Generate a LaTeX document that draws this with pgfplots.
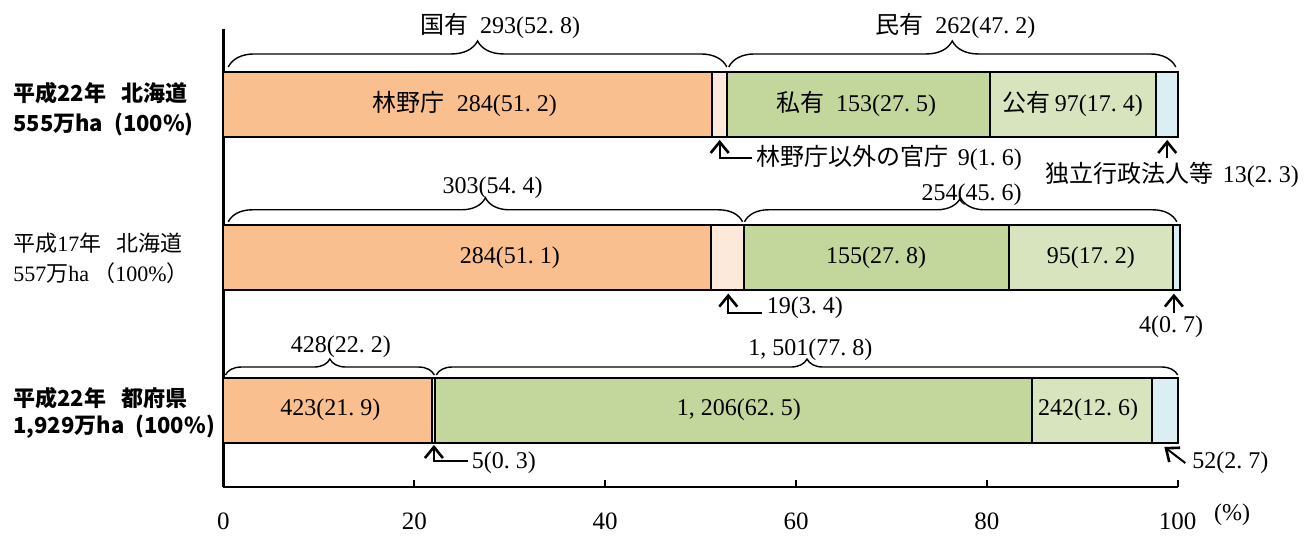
\documentclass[border=0pt]{standalone}
\usepackage{fontspec}
\setmainfont{Liberation Serif}
\newfontfamily\jp{Noto Sans CJK JP}
\usepackage{pgfplots}
\pgfplotsset{compat=1.18}
\usetikzlibrary{decorations.pathreplacing,arrows.meta}
\definecolor{cA}{HTML}{FABF8F}
\definecolor{cB}{HTML}{FDE9D9}
\definecolor{cC}{HTML}{C3D69B}
\definecolor{cD}{HTML}{D7E4BD}
\definecolor{cE}{HTML}{DAEEF3}
\newcommand\dd{.\hspace{0.25em}}
\newcommand\cm{,\hspace{0.25em}}
\begin{document}
\begin{tikzpicture}[
  lab/.style={font=\fontsize{12}{14}\selectfont, inner sep=0pt},
  rl/.style={font=\fontsize{11}{13}\selectfont, inner sep=0pt, anchor=west},
  brc/.style={decorate, line width=0.7pt},
  arr/.style={line width=1pt, -{Straight Barb[length=5.5pt,width=9pt,line width=1.3pt]}},
]
\begin{axis}[
  scale only axis, width=477.1pt, height=229pt,
  xmin=0, xmax=100, ymin=0.496, ymax=3.494,
  xbar stacked, bar width=32.5pt,
  axis x line*=bottom, axis y line*=left,
  axis line style={-, line width=1.2pt},
  xtick={0,20,...,100}, ytick=\empty,
  xtick align=inside, major tick length=3.5pt,
  xtick style={line width=1pt, black},
  xticklabel style={font=\fontsize{12.5}{14}\selectfont, anchor=center, yshift=-17pt},
  /pgf/number format/assume math mode=true,
  clip=false,
]
\addplot[fill=cA, draw=black, line width=1pt] coordinates {(51.2,3) (51.1,2) (21.9,1)};
\addplot[fill=cB, draw=black, line width=1pt] coordinates {(1.6,3) (3.4,2) (0.3,1)};
\addplot[fill=cC, draw=black, line width=1pt] coordinates {(27.5,3) (27.8,2) (62.5,1)};
\addplot[fill=cD, draw=black, line width=1pt] coordinates {(17.4,3) (17.2,2) (12.6,1)};
\addplot[fill=cE, draw=black, line width=1pt] coordinates {(2.3,3) (0.7,2) (2.7,1)};

% positions of in-bar labels (drawn after the axis so they sit on top of the bars)
\coordinate (b1) at (axis cs:25.3,3);
\coordinate (b2) at (axis cs:66.3,3);
\coordinate (b3) at (axis cs:89,3);
\coordinate (b4) at (axis cs:30,2);
\coordinate (b5) at (axis cs:68.4,2);
\coordinate (b6) at (axis cs:90.9,2);
\coordinate (b7) at (axis cs:11.2,1);
\coordinate (b8) at (axis cs:54,1);
\coordinate (b9) at (axis cs:90.6,1);

% braces
\draw[brc, decoration={brace, amplitude=13pt}] (axis cs:0.5,3.2455) -- (axis cs:52.75,3.2455);
\draw[brc, decoration={brace, amplitude=13pt}] (axis cs:52.95,3.2455) -- (axis cs:99.8,3.2455);
\draw[brc, decoration={brace, amplitude=12pt}] (axis cs:0.5,2.232) -- (axis cs:54.4,2.232);
\draw[brc, decoration={brace, amplitude=12pt}] (axis cs:54.6,2.232) -- (axis cs:99.9,2.232);
\draw[brc, decoration={brace, amplitude=8pt}] (axis cs:0.2,1.229) -- (axis cs:22.1,1.229);
\draw[brc, decoration={brace, amplitude=8pt}] (axis cs:22.3,1.229) -- (axis cs:100,1.229);

% brace labels
\node[lab] at (axis cs:29.0,3.514) {{\jp 国有}\hspace{0.5em}293(52\dd 8)};
\node[lab] at (axis cs:76.7,3.514) {{\jp 民有}\hspace{0.5em}262(47\dd 2)};
\node[lab] at (axis cs:28.2,2.455) {303(54\dd 4)};
\node[lab] at (axis cs:78.4,2.41) {254(45\dd 6)};
\node[lab] at (axis cs:12.3,1.412) {428(22\dd 2)};
\node[lab] at (axis cs:61.5,1.393) {1\cm 501(77\dd 8)};

% arrows and small labels
\draw[arr] (axis cs:55.4,2.650) -- (axis cs:52.0,2.650) -- (axis cs:52.0,2.768);
\node[lab, anchor=west] at (axis cs:55.8,2.650) {{\jp 林野庁以外の官庁}\hspace{0.4em}9(1\dd 6)};
\draw[arr] (axis cs:98.9,2.650) -- (axis cs:98.9,2.768);
\node[lab] at (axis cs:99.4,2.538) {{\jp 独立行政法人等}\hspace{0.4em}13(2\dd 3)};

\draw[arr] (axis cs:56.4,1.637) -- (axis cs:52.9,1.637) -- (axis cs:52.9,1.762);
\node[lab, anchor=west] at (axis cs:56.9,1.669) {19(3\dd 4)};
\draw[arr] (axis cs:99.6,1.637) -- (axis cs:99.6,1.762);
\node[lab] at (axis cs:99.3,1.545) {4(0\dd 7)};

\draw[arr] (axis cs:25.6,0.666) -- (axis cs:22.05,0.666) -- (axis cs:22.05,0.771);
\node[lab, anchor=west] at (axis cs:26.0,0.653) {5(0\dd 3)};
\draw[arr] (axis cs:100.8,0.653) -- (axis cs:98.6,0.758);
\node[lab, anchor=west] at (axis cs:101.5,0.653) {52(2\dd 7)};

\node[lab] at (axis cs:105.7,0.313) {(\%)};

% row labels
\node[rl] at (axis cs:-22.07,3.075) {\jp\bfseries 平成22年\hspace{0.7em}北海道};
\node[rl] at (axis cs:-22.07,2.872) {\jp\bfseries 555万ha\hspace{0.5em}(100\%)};
\node[rl] at (axis cs:-22.07,2.095) {{\jp 平成}17{\jp 年}\hspace{0.7em}{\jp 北海道}};
\node[rl] at (axis cs:-22.07,1.898) {557{\jp 万}ha\hspace{0.2em}{\jp （}100\%{\jp ）}};
\node[rl] at (axis cs:-22.07,1.079) {\jp\bfseries 平成22年\hspace{0.7em}都府県};
\node[rl] at (axis cs:-22.07,0.889) {\jp\bfseries 1,929万ha\hspace{0.5em}(100\%)};
\end{axis}
\node[lab] at (b1) {{\jp 林野庁}\hspace{0.5em}284(51\dd 2)};
\node[lab] at (b2) {{\jp 私有}\hspace{0.5em}153(27\dd 5)};
\node[lab] at (b3) {{\jp 公有}\,97(17\dd 4)};
\node[lab] at (b4) {284(51\dd 1)};
\node[lab] at (b5) {155(27\dd 8)};
\node[lab] at (b6) {95(17\dd 2)};
\node[lab] at (b7) {423(21\dd 9)};
\node[lab] at (b8) {1\cm 206(62\dd 5)};
\node[lab] at (b9) {242(12\dd 6)};
\pgfresetboundingbox
\path[use as bounding box] (-111.75pt,-24pt) rectangle (545.75pt,243.5pt);
\end{tikzpicture}
\end{document}
